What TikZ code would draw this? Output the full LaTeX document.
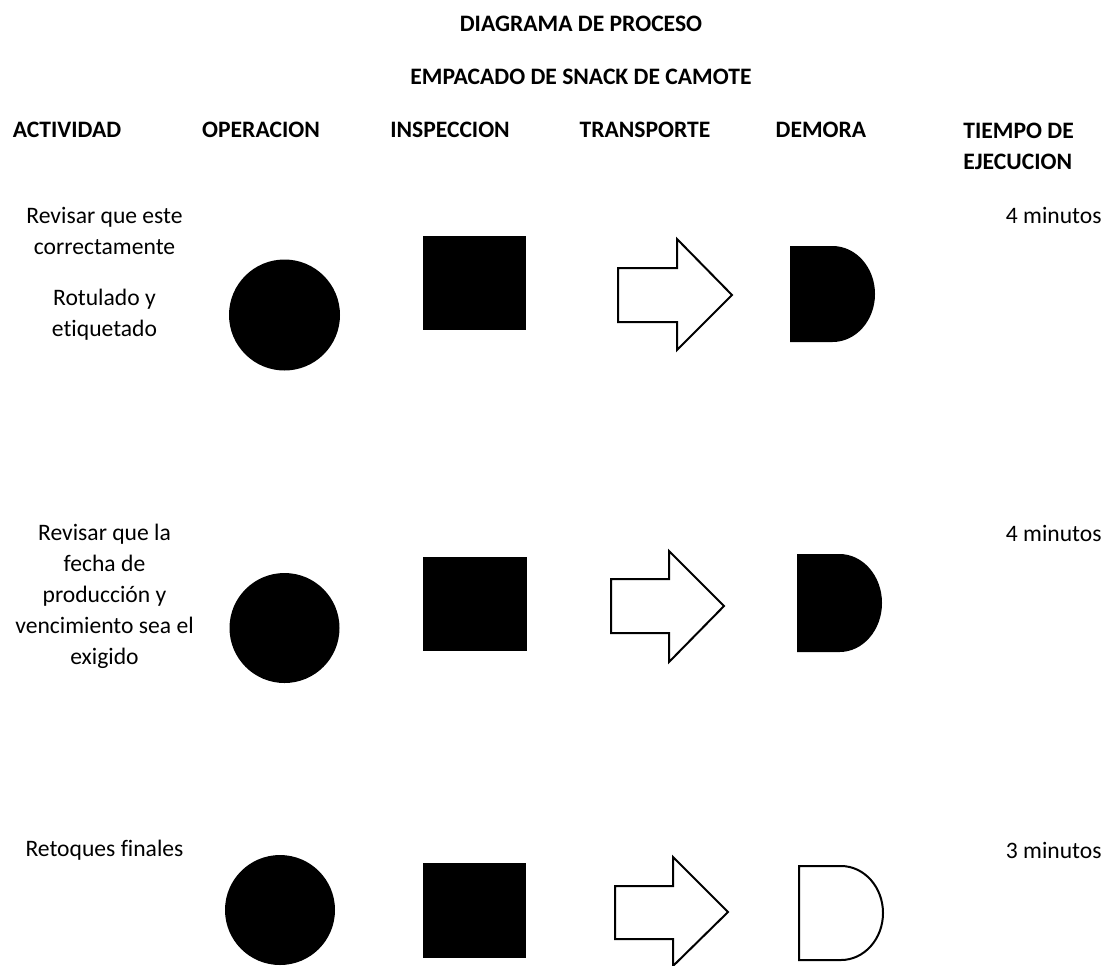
\documentclass[tikz,border=0pt]{standalone}
\usepackage{fontspec}
\setmainfont[Ligatures=NoCommon]{Carlito}
\usepackage{tikz}

\begin{document}
\fontsize{11.8}{15.5}\selectfont
\begin{tikzpicture}[x=0.5pt,y=-0.5pt,
  head/.style={font=\bfseries},
  act/.style={align=center},
  blk/.style={fill=black},
  flecha/.style={draw=black,fill=white,line width=1pt,line join=miter},
  ]
\tikzstyle{every node}+=[inner sep=0pt]
\useasboundingbox (0,0) rectangle (1107,965);
% titulos
\draw (581,24) node [head] (titulo) {DIAGRAMA DE PROCESO};
\draw (581,77) node [head] (subtitulo) {EMPACADO DE SNACK DE CAMOTE};
\draw (67,130) node [head] (hact) {ACTIVIDAD};
\draw (261,130) node [head] (hope) {OPERACION};
\draw (450,130) node [head] (hins) {INSPECCION};
\draw (645,130) node [head] (htra) {TRANSPORTE};
\draw (821,130) node [head] (hdem) {DEMORA};
\draw (963,146) node [head,anchor=west,align=left] (htie) {TIEMPO DE\\EJECUCION};
% fila 1
\draw (104.5,231) node [act] (act1a) {Revisar que este\\correctamente};
\draw (104.5,315) node [act] (act1b) {Rotulado y\\etiquetado};
\draw (1102,215) node [anchor=east] (t1) {4 minutos};
\fill [blk] (284.5,315) circle [radius=27.75pt];
\fill [blk] (423,236) rectangle (526,330);
\draw [flecha] (618,268) -- (677,268) -- (677,239) -- (732,295) -- (677,350) -- (677,322) -- (618,322) -- cycle;
\fill [blk] (790,246) -- (832.5,246) arc [start angle=90,end angle=-90,x radius=21.25pt,y radius=24pt] -- (790,342) -- cycle;
% fila 2
\draw (104.5,596) node [act] (act2) {Revisar que la\\fecha de\\producción y\\vencimiento sea el\\exigido};
\draw (1102,533) node [anchor=east] (t2) {4 minutos};
\fill [blk] (284.5,628) circle [radius=27.5pt];
\fill [blk] (423,557) rectangle (527,651);
\draw [flecha] (611,579) -- (669,579) -- (669,551) -- (724,606) -- (669,662) -- (669,633) -- (611,633) -- cycle;
\fill [blk] (797,554) -- (839.5,554) arc [start angle=90,end angle=-90,x radius=21.25pt,y radius=24.5pt] -- (797,652) -- cycle;
% fila 3
\draw (104.5,850) node (act3) {Retoques finales};
\draw (1102,850) node [anchor=east] (t3) {3 minutos};
\fill [blk] (280,910) circle [radius=27.5pt];
\fill [blk] (423,863) rectangle (526,958);
\draw [flecha] (615,886) -- (673,886) -- (673,857) -- (728,912) -- (673,966) -- (673,939) -- (615,939) -- cycle;
\draw [flecha] (799,866) -- (841,866) arc [start angle=90,end angle=-90,x radius=21pt,y radius=23.5pt] -- (799,960) -- cycle;
\end{tikzpicture}
\end{document}
